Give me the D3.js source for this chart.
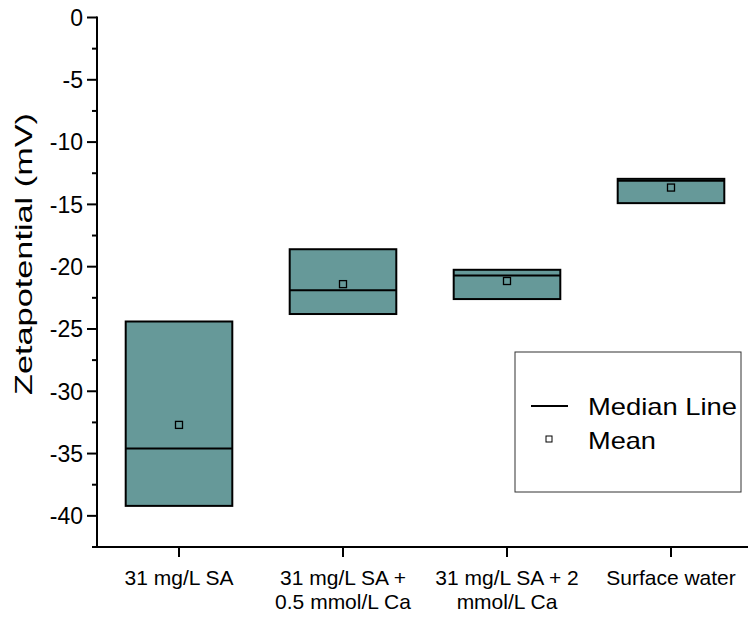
<!DOCTYPE html>
<html>
<head>
<meta charset="utf-8">
<script src="https://cdn.jsdelivr.net/npm/d3@7"></script>
<style>
  body { margin: 0; background: #fff; }
  text { font-family: "Liberation Sans", Arial, sans-serif; fill: #000; }
</style>
</head>
<body>
<div id="chart"></div>
<script>
// sample groups along the x axis, each line of a label is drawn on its own row
var groups = ["31 mg/L SA", "31 mg/L SA + 0.5 mmol/L Ca", "31 mg/L SA + 2 mmol/L Ca", "Surface water"];
var groupLines = [["31 mg/L SA"], ["31 mg/L SA +", "0.5 mmol/L Ca"], ["31 mg/L SA + 2", "mmol/L Ca"], ["Surface water"]];

// box statistics (mV)
var boxLow = [-39.2, -23.8, -22.6, -14.9];
var boxMedian = [-34.6, -21.9, -20.7, -13.1];
var boxHigh = [-24.4, -18.6, -20.25, -12.95];
var boxMean = [-32.7, -21.4, -21.15, -13.65];

var yTicks = [0, -5, -10, -15, -20, -25, -30, -35, -40];

var width = 748, height = 618;
var svg = d3.select("#chart").append("svg")
    .attr("width", width)
    .attr("height", height);

var x = d3.scaleBand()
    .domain(groups)
    .range([97, 753])
    .paddingInner(0.35)
    .paddingOuter(0.175);

var y = d3.scaleLinear()
    .domain([-42.5, 0])
    .range([547, 17.5]);

var fillColor = "#669999";

/* Boxes */
var data = groups.map(function(g, i){
    return {name: g, low: boxLow[i], median: boxMedian[i], high: boxHigh[i], mean: boxMean[i]};
});

var boxes = svg.selectAll(".box")
    .data(data)
    .enter()
    .append("g")
    .attr("class", "box");

boxes.append("rect")
    .attr("x", function(d){ return x(d.name); })
    .attr("y", function(d){ return y(d.high); })
    .attr("width", x.bandwidth())
    .attr("height", function(d){ return y(d.low) - y(d.high); })
    .attr("fill", fillColor)
    .attr("stroke", "#000")
    .attr("stroke-width", 2);

boxes.append("line")
    .attr("x1", function(d){ return x(d.name); })
    .attr("x2", function(d){ return x(d.name) + x.bandwidth(); })
    .attr("y1", function(d){ return y(d.median); })
    .attr("y2", function(d){ return y(d.median); })
    .attr("stroke", "#000")
    .attr("stroke-width", 2);

boxes.append("rect")
    .attr("x", function(d){ return x(d.name) + x.bandwidth() / 2 - 3.5; })
    .attr("y", function(d){ return y(d.mean) - 3.5; })
    .attr("width", 7)
    .attr("height", 7)
    .attr("fill", "none")
    .attr("stroke", "#000")
    .attr("stroke-width", 1.3);

/* Y axis with minor ticks */
var minor = d3.range(-42.5, 0.01, 2.5).filter(function(v){ return Math.abs(v % 5) > 0.1; });
var yAxis = svg.append("g").attr("transform", "translate(97,0)");
yAxis.append("line")
    .attr("y1", y(0) - 1).attr("y2", y(-42.5) + 1)
    .attr("stroke", "#000").attr("stroke-width", 2);
yAxis.selectAll(".major").data(yTicks).enter().append("line")
    .attr("x1", -10).attr("x2", 0)
    .attr("y1", function(d){ return y(d); }).attr("y2", function(d){ return y(d); })
    .attr("stroke", "#000").attr("stroke-width", 2);
yAxis.selectAll(".minor").data(minor).enter().append("line")
    .attr("x1", -5).attr("x2", 0)
    .attr("y1", function(d){ return y(d); }).attr("y2", function(d){ return y(d); })
    .attr("stroke", "#000").attr("stroke-width", 2);
yAxis.selectAll(".lbl").data(yTicks).enter().append("text")
    .attr("x", -14)
    .attr("y", function(d){ return y(d); })
    .attr("dy", "0.36em")
    .attr("text-anchor", "end")
    .attr("font-size", 23)
    .text(function(d){ return d; });

svg.append("text")
    .attr("transform", "translate(32,254) rotate(-90)")
    .attr("text-anchor", "middle")
    .attr("font-size", 24)
    .attr("textLength", 282)
    .attr("lengthAdjust", "spacingAndGlyphs")
    .text("Zetapotential (mV)");

/* X axis */
var xAxis = svg.append("g");
xAxis.append("line")
    .attr("x1", 96).attr("x2", 753)
    .attr("y1", 547).attr("y2", 547)
    .attr("stroke", "#000").attr("stroke-width", 2);
xAxis.selectAll(".tick").data(groups).enter().append("line")
    .attr("x1", function(d){ return x(d) + x.bandwidth() / 2; })
    .attr("x2", function(d){ return x(d) + x.bandwidth() / 2; })
    .attr("y1", 547).attr("y2", 557)
    .attr("stroke", "#000").attr("stroke-width", 2);
var xl = xAxis.selectAll(".xl").data(groups).enter().append("text")
    .attr("text-anchor", "middle")
    .attr("font-size", 21);
xl.selectAll("tspan")
    .data(function(d, i){ return groupLines[i].map(function(t){ return {t: t, cx: x(d) + x.bandwidth() / 2}; }); })
    .enter().append("tspan")
    .attr("x", function(d){ return d.cx; })
    .attr("y", function(d, j){ return 585 + j * 24; })
    .text(function(d){ return d.t; });

/* Legend */
var legend = svg.append("g");
legend.append("rect")
    .attr("x", 515).attr("y", 352)
    .attr("width", 226).attr("height", 140)
    .attr("fill", "none").attr("stroke", "#333").attr("stroke-width", 1);
legend.append("line")
    .attr("x1", 531).attr("x2", 568)
    .attr("y1", 406).attr("y2", 406)
    .attr("stroke", "#000").attr("stroke-width", 2);
legend.append("text")
    .attr("x", 588).attr("y", 415)
    .attr("font-size", 24)
    .attr("textLength", 149)
    .attr("lengthAdjust", "spacingAndGlyphs")
    .text("Median Line");
legend.append("rect")
    .attr("x", 546).attr("y", 436)
    .attr("width", 6).attr("height", 6)
    .attr("fill", "none").attr("stroke", "#000").attr("stroke-width", 1);
legend.append("text")
    .attr("x", 588).attr("y", 449)
    .attr("font-size", 24)
    .attr("textLength", 68)
    .attr("lengthAdjust", "spacingAndGlyphs")
    .text("Mean");
</script>
</body>
</html>
